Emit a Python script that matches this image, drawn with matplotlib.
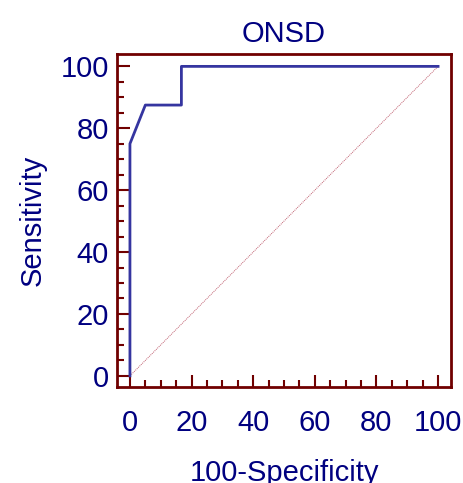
import numpy as np
import matplotlib
matplotlib.use("Agg")
from matplotlib import pyplot as plt
from matplotlib.ticker import MultipleLocator

plt.rcParams['font.family'] = ['Liberation Sans', 'DejaVu Sans']

# ROC points (100-Specificity, Sensitivity)
fpr = [0, 0, 5, 16.7, 16.7, 100]
tpr = [0, 75, 87.5, 87.5, 100, 100]
ref_x = [0, 100]
ref_y = [0, 100]

navy = '#000080'
maroon = '#700000'

fig = plt.figure(figsize=(4.64, 4.83), dpi=100)
ax = fig.add_axes([117/464, 1-387/483, (451-117)/464, (387-54)/483])

ax.plot(ref_x, ref_y, color='#c06070', lw=0.7, ls=(0, (1, 1)))
ax.plot(fpr, tpr, color='#3535a0', lw=2)

ax.set_xlim(-4.2, 104.2)
ax.set_ylim(-3.6, 104)
ax.xaxis.set_major_locator(MultipleLocator(20))
ax.yaxis.set_major_locator(MultipleLocator(20))
ax.xaxis.set_minor_locator(MultipleLocator(5))
ax.yaxis.set_minor_locator(MultipleLocator(5))

for s in ax.spines.values():
    s.set_color(maroon)
    s.set_linewidth(2)
ax.tick_params(which='both', direction='in', color=maroon, labelcolor=navy,
               top=False, right=False)
ax.tick_params(which='major', length=9, width=1.5, labelsize=21, pad=16)
ax.tick_params(which='minor', length=5, width=1.5)
ax.tick_params(axis='y', which='major', pad=6)

ax.set_title('ONSD', color=navy, fontsize=21, pad=9)
ax.set_xlabel('100-Specificity', color=navy, fontsize=21, labelpad=16)
ax.set_ylabel('Sensitivity', color=navy, fontsize=21, labelpad=10)

fig.savefig('out.png', dpi=100)
